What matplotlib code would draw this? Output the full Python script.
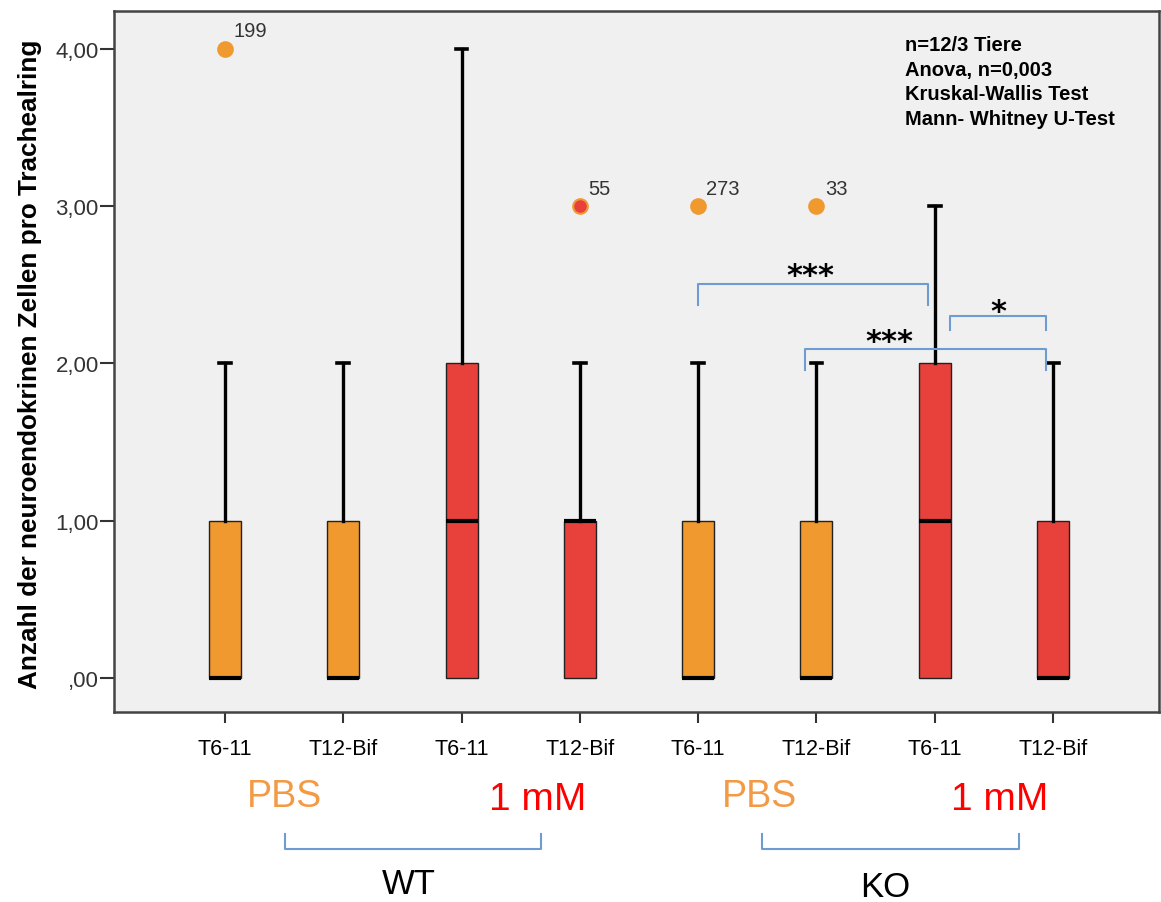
import matplotlib as mpl
import matplotlib.pyplot as plt
from matplotlib import transforms

# box statistics
positions = [1, 2, 3, 4, 5, 6, 7, 8]
tick_labels = ['T6-11', 'T12-Bif', 'T6-11', 'T12-Bif', 'T6-11', 'T12-Bif', 'T6-11', 'T12-Bif']
q1 = [0, 0, 0, 0, 0, 0, 0, 0]
med = [0, 0, 1, 1, 0, 0, 1, 0]
q3 = [1, 1, 2, 1, 1, 1, 2, 1]
whis_lo = [0, 0, 0, 0, 0, 0, 0, 0]
whis_hi = [2, 2, 4, 2, 2, 2, 3, 2]
fliers = [[4], [], [], [3], [3], [3], [], []]
flier_ids = [['199'], [], [], ['55'], ['273'], ['33'], [], []]
treatment = ['PBS', 'PBS', '1mM', '1mM', 'PBS', 'PBS', '1mM', '1mM']

orange = '#F0992F'
red = '#E8403A'
blue = '#6F9BD3'
col = {'PBS': orange, '1mM': red}

mpl.rcParams.update({'font.family': ['Liberation Sans', 'DejaVu Sans']})

fig = plt.figure(figsize=(11.61, 9.03), dpi=100, facecolor='w')
ax = fig.add_axes([114 / 1161, 1 - 713 / 903, 1045 / 1161, 701 / 903])
ax.set_facecolor('#F0F0F0')

stats = []
for i in range(len(positions)):
    stats.append({'q1': q1[i], 'med': med[i], 'q3': q3[i],
                  'whislo': whis_lo[i], 'whishi': whis_hi[i], 'fliers': []})

bp = ax.bxp(stats, positions=positions, widths=0.27, patch_artist=True,
            showfliers=False, capwidths=0.1,
            boxprops=dict(edgecolor='#222222', linewidth=1.0),
            medianprops=dict(color='black', linewidth=3.0, solid_capstyle='butt'),
            whiskerprops=dict(color='black', linewidth=2.4),
            capprops=dict(color='black', linewidth=2.6))
for patch, t in zip(bp['boxes'], treatment):
    patch.set_facecolor(col[t])
# lower whiskers coincide with the box bottom
for w in bp['whiskers'][0::2]:
    w.set_visible(False)
for c in bp['caps'][0::2]:
    c.set_visible(False)

# outliers with their case numbers
for i, (fv, ids) in enumerate(zip(fliers, flier_ids)):
    for v, lab in zip(fv, ids):
        face = col[treatment[i]]
        ax.plot(positions[i], v, 'o', ms=10.5, mfc=face, mec=orange, mew=1.5, zorder=5)
        ax.annotate(lab, (positions[i], v), xytext=(6, 9), textcoords='offset points',
                    fontsize=14.5, color='#333333')

ax.set_xlim(1 - 111 / 118.4, 8 + 106 / 118.4)
ax.set_ylim(-34 / 157.3, 4 + 38 / 157.3)
ax.set_xticks(positions)
ax.set_xticklabels(tick_labels, fontsize=15.5)
ax.set_yticks([0, 1, 2, 3, 4])
ax.set_yticklabels([',00', '1,00', '2,00', '3,00', '4,00'], fontsize=16, color='#333333')
ax.tick_params(axis='y', length=10, width=1.5, pad=1, color='#333333')
ax.tick_params(axis='x', length=8, width=1.5, pad=11, color='#333333')
for s in ax.spines.values():
    s.set_linewidth(1.8)
    s.set_color('#444444')

ax.set_ylabel('Anzahl der neuroendokrinen Zellen pro Trachealring',
              fontsize=18.8, fontweight='bold')
ax.yaxis.set_label_coords(-0.069, 0.497)

# significance brackets
def bracket(x0, x1, ytop, ybot0, ybot1, text, tx, ty):
    ax.plot([x0, x0, x1, x1], [ybot0, ytop, ytop, ybot1], color=blue, lw=1.5,
            zorder=6, clip_on=False)
    ax.text(tx, ty, text, ha='center', va='center', fontsize=22, fontweight='bold',
            family=['DejaVu Sans'], zorder=6)

bracket(5.0, 6.94, 2.507, 2.371, 2.371, '***', 5.95, 2.56)
bracket(7.13, 7.94, 2.30, 2.215, 2.215, '*', 7.54, 2.33)
bracket(5.90, 7.94, 2.09, 1.96, 1.96, '***', 6.62, 2.14)

# statistics note
ax.text(0.757, 0.966, 'n=12/3 Tiere\nAnova, n=0,003\nKruskal-Wallis Test\nMann- Whitney U-Test',
        transform=ax.transAxes, ha='left', va='top', fontsize=14.5, fontweight='bold',
        linespacing=1.38)

# group labels below the axis
trans = transforms.blended_transform_factory(ax.transData, ax.transAxes)
for x in [1.507, 5.52]:
    ax.text(x, -0.12, 'PBS', transform=trans, ha='center', va='center',
            fontsize=27, color='#F39A45')
for x in [3.64, 7.55]:
    ax.text(x, -0.124, '1 mM', transform=trans, ha='center', va='center',
            fontsize=28, color='#FF0000')
for x0, x1 in [(1.507, 3.67), (5.54, 7.71)]:
    ax.plot([x0, x0, x1, x1], [-0.174, -0.196, -0.196, -0.174], color=blue, lw=1.5,
            transform=trans, clip_on=False)
ax.text(2.55, -0.244, 'WT', transform=trans, ha='center', va='center', fontsize=25)
ax.text(6.58, -0.249, 'KO', transform=trans, ha='center', va='center', fontsize=25)

fig.savefig('out.png', dpi=100)
